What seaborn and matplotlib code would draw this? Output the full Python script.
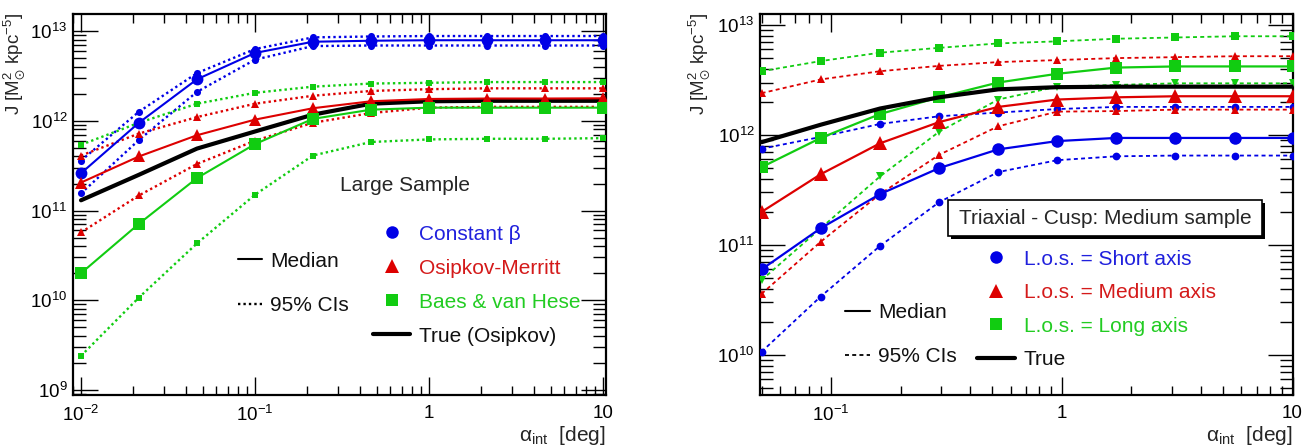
import numpy as np
import pandas as pd
import seaborn as sns
import matplotlib
matplotlib.use("Agg")
import matplotlib.pyplot as plt
from matplotlib.ticker import LogLocator, FuncFormatter, NullFormatter
from matplotlib.lines import Line2D
from matplotlib.patches import Rectangle

# ---------------- data (left panel: Large Sample) ----------------
alpha_left = [0.01, 0.0215, 0.0464, 0.1, 0.215, 0.464, 1.0, 2.15, 4.64, 10.0]
constbeta_med = [2.6e11, 9.5e11, 2.9e12, 5.7e12, 7.6e12, 7.8e12, 7.9e12, 7.9e12, 7.9e12, 7.9e12]
constbeta_hi = [3.6e11, 1.26e12, 3.4e12, 6.3e12, 8.5e12, 8.7e12, 8.8e12, 8.8e12, 8.8e12, 8.8e12]
constbeta_lo = [1.55e11, 6.1e11, 2.1e12, 4.8e12, 6.8e12, 6.9e12, 6.9e12, 6.9e12, 6.9e12, 6.9e12]
om_med = [2.05e11, 4.0e11, 6.9e11, 1.03e12, 1.38e12, 1.65e12, 1.75e12, 1.77e12, 1.77e12, 1.78e12]
om_hi = [4.1e11, 7.2e11, 1.1e12, 1.55e12, 1.9e12, 2.15e12, 2.25e12, 2.3e12, 2.3e12, 2.3e12]
om_lo = [5.7e10, 1.47e11, 3.3e11, 6.0e11, 9.5e11, 1.22e12, 1.4e12, 1.43e12, 1.43e12, 1.43e12]
bvh_med = [2.0e10, 7.1e10, 2.3e11, 5.5e11, 1.05e12, 1.33e12, 1.4e12, 1.4e12, 1.4e12, 1.4e12]
bvh_hi = [5.4e11, 9.5e11, 1.55e12, 2.05e12, 2.4e12, 2.6e12, 2.65e12, 2.7e12, 2.7e12, 2.7e12]
bvh_lo = [2.4e9, 1.07e10, 4.3e10, 1.5e11, 4.1e11, 5.8e11, 6.2e11, 6.3e11, 6.3e11, 6.4e11]
true_left = [1.3e11, 2.5e11, 4.9e11, 7.6e11, 1.17e12, 1.55e12, 1.65e12, 1.67e12, 1.67e12, 1.67e12]

# ---------------- data (right panel: Triaxial - Cusp) ----------------
alpha_right = [0.05, 0.0902, 0.163, 0.294, 0.530, 0.955, 1.72, 3.11, 5.61, 10.0]
short_med = [6.0e10, 1.42e11, 2.9e11, 5.0e11, 7.4e11, 8.8e11, 9.4e11, 9.4e11, 9.4e11, 9.4e11]
short_hi = [7.5e11, 9.6e11, 1.26e12, 1.48e12, 1.6e12, 1.72e12, 1.8e12, 1.8e12, 1.8e12, 1.8e12]
short_lo = [1.07e10, 3.4e10, 9.8e10, 2.45e11, 4.6e11, 5.9e11, 6.4e11, 6.5e11, 6.5e11, 6.5e11]
medium_med = [2.0e11, 4.4e11, 8.4e11, 1.31e12, 1.8e12, 2.1e12, 2.2e12, 2.25e12, 2.25e12, 2.25e12]
medium_hi = [2.4e12, 3.2e12, 3.8e12, 4.25e12, 4.6e12, 4.8e12, 5.0e12, 5.1e12, 5.2e12, 5.2e12]
medium_lo = [3.6e10, 1.07e11, 2.9e11, 6.6e11, 1.2e12, 1.63e12, 1.65e12, 1.7e12, 1.7e12, 1.7e12]
long_med = [5.1e11, 9.4e11, 1.55e12, 2.2e12, 3.0e12, 3.6e12, 4.1e12, 4.2e12, 4.2e12, 4.2e12]
long_hi = [3.8e12, 4.7e12, 5.6e12, 6.2e12, 6.8e12, 7.1e12, 7.5e12, 7.7e12, 7.9e12, 7.9e12]
long_lo = [4.8e10, 1.42e11, 4.2e11, 1.07e12, 2.1e12, 2.75e12, 2.85e12, 2.95e12, 2.95e12, 2.95e12]
true_right = [8.6e11, 1.24e12, 1.74e12, 2.2e12, 2.6e12, 2.72e12, 2.75e12, 2.75e12, 2.75e12, 2.75e12]

left_labels = ["Constant \u03b2", "Osipkov-Merritt", "Baes & van Hese", "True (Osipkov)"]
right_labels = ["L.o.s. = Short axis", "L.o.s. = Medium axis", "L.o.s. = Long axis", "True"]

# ---------------- style ----------------
sns.set_style("ticks")
plt.rcParams["font.family"] = ["Liberation Sans", "DejaVu Sans"]
plt.rcParams["mathtext.fontset"] = "custom"
plt.rcParams["mathtext.rm"] = "Liberation Sans"
plt.rcParams["mathtext.it"] = "Liberation Sans:italic"
plt.rcParams["mathtext.default"] = "regular"

BLUE = "#0000e6"
RED = "#dd0000"
GREEN = "#11cc11"
BLUE_T = "#2020dd"
RED_T = "#d41a1a"
GREEN_T = "#22cc22"

W, H = 1305, 448
fig = plt.figure(figsize=(W / 100, H / 100), dpi=100)


def fx(px):
    return px / W


def fy(py):
    return 1 - py / H


ax1 = fig.add_axes([fx(73), fy(395), fx(606) - fx(73), fy(14) - fy(395)])
ax2 = fig.add_axes([fx(760), fy(395), fx(1293) - fx(760), fy(14) - fy(395)])


def draw(ax, x, y, color, marker, ms, ls, lw, z):
    df = pd.DataFrame({"x": x, "y": y})
    sns.lineplot(data=df, x="x", y="y", ax=ax, color=color, marker=marker,
                 markersize=ms, markeredgewidth=0, linestyle=ls, linewidth=lw,
                 estimator=None, sort=False, legend=False, zorder=z)


for ax in (ax1, ax2):
    ax.set_xscale("log")
    ax.set_yscale("log")

dot_l = (0, (1.0, 1.3))
dash_r = (0, (2.2, 1.8))

# left panel
draw(ax1, alpha_left, true_left, "black", None, 0, "-", 3.0, 2)
for hi, lo, med, col, mk, msz in [
    (constbeta_hi, constbeta_lo, constbeta_med, BLUE, "o", 8.5),
    (om_hi, om_lo, om_med, RED, "^", 9),
    (bvh_hi, bvh_lo, bvh_med, GREEN, "s", 8),
]:
    draw(ax1, alpha_left, hi, col, mk, msz * 0.6, dot_l, 1.7, 3)
    draw(ax1, alpha_left, lo, col, mk, msz * 0.6, dot_l, 1.7, 3)
    draw(ax1, alpha_left, med, col, mk, msz, "-", 1.5, 4)

# right panel
for hi, lo, med, col, mk, lomk, msz in [
    (short_hi, short_lo, short_med, BLUE, "o", "o", 9),
    (medium_hi, medium_lo, medium_med, RED, "^", "^", 9.5),
    (long_hi, long_lo, long_med, GREEN, "s", "v", 8.5),
]:
    draw(ax2, alpha_right, hi, col, mk, msz * 0.62, dash_r, 1.3, 3)
    draw(ax2, alpha_right, lo, col, lomk, msz * 0.62, dash_r, 1.3, 3)
    draw(ax2, alpha_right, med, col, mk, msz, "-", 1.6, 4)
draw(ax2, alpha_right, true_right, "black", None, 0, "-", 3.0, 5)


def fmt(v, pos):
    e = int(round(np.log10(v)))
    if e == 0:
        return "1"
    if e == 1:
        return "10"
    return r"$10^{%d}$" % e


ax1.set_xlim(10 ** -2.046, 10 ** 1.017)
ax1.set_ylim(10 ** 8.944, 10 ** 13.19)
ax2.set_xlim(0.0492, 10.05)
ax2.set_ylim(10 ** 9.636, 10 ** 13.1)

for ax in (ax1, ax2):
    ax.set_xlabel("")
    ax.set_ylabel("")
    for a in (ax.xaxis, ax.yaxis):
        a.set_major_locator(LogLocator(base=10, numticks=20))
        a.set_minor_locator(LogLocator(base=10, subs=np.arange(2, 10), numticks=200))
        a.set_major_formatter(FuncFormatter(fmt))
        a.set_minor_formatter(NullFormatter())
    ax.tick_params(which="both", direction="in", top=True, right=True,
                   labelsize=13.5, colors="black", width=1.0)
    ax.tick_params(axis="y", which="major", length=18, pad=4)
    ax.tick_params(axis="y", which="minor", length=9.5)
    ax.tick_params(axis="x", which="major", length=13, pad=7)
    ax.tick_params(axis="x", which="minor", length=6.5)
    for s in ax.spines.values():
        s.set_linewidth(1.6)
        s.set_color("black")
        s.set_visible(True)

# axis titles
ylab = r"J [M$_{\odot}^{2}$ kpc$^{-5}$]"
fig.text(fx(14), fy(13), ylab, rotation=90, ha="center", va="top", fontsize=13.5)
fig.text(fx(699), fy(13), ylab, rotation=90, ha="center", va="top", fontsize=13.5)
xlab = r"$\alpha_{\mathrm{int}}$  [deg]"
fig.text(fx(606), fy(435), xlab, ha="right", va="center", fontsize=15)
fig.text(fx(1293), fy(435), xlab, ha="right", va="center", fontsize=15)

# left annotations
FS = 15
fig.text(fx(405), fy(185), "Large Sample", ha="center", va="center", fontsize=FS)


def style_legend(ax, handles, labels, colors, x, ytop, hl, sp, tp):
    leg = ax.legend(handles, labels, loc="upper left", bbox_to_anchor=(fx(x), fy(ytop)),
                    bbox_transform=fig.transFigure, frameon=False, fontsize=FS,
                    handlelength=hl, handletextpad=tp, labelspacing=sp,
                    borderpad=0, borderaxespad=0)
    for t, c in zip(leg.get_texts(), colors):
        t.set_color(c)
    return leg


h_ci_l = [Line2D([], [], color="black", lw=1.5),
          Line2D([], [], color="black", lw=1.7, linestyle=dot_l)]
leg1 = style_legend(ax1, h_ci_l, ["Median", "95% CIs"], ["#111111", "#111111"],
                    238, 251.5, 1.15, 1.24, 0.38)
ax1.add_artist(leg1)
h_s_l = [Line2D([], [], color=BLUE, marker="o", ls="none", ms=9, mew=0),
         Line2D([], [], color=RED, marker="^", ls="none", ms=9.5, mew=0),
         Line2D([], [], color=GREEN, marker="s", ls="none", ms=8, mew=0),
         Line2D([], [], color="black", lw=3)]
style_legend(ax1, h_s_l, left_labels, [BLUE_T, RED_T, GREEN_T, "#111111"],
             373, 224.5, 1.78, 0.72, 0.43)

# right annotations
h_ci_r = [Line2D([], [], color="black", lw=1.5),
          Line2D([], [], color="black", lw=1.3, linestyle=dash_r)]
leg3 = style_legend(ax2, h_ci_r, ["Median", "95% CIs"], ["#111111", "#111111"],
                    845, 303.5, 1.2, 1.2, 0.38)
ax2.add_artist(leg3)
h_s_r = [Line2D([], [], color=BLUE, marker="o", ls="none", ms=9, mew=0),
         Line2D([], [], color=RED, marker="^", ls="none", ms=9.5, mew=0),
         Line2D([], [], color=GREEN, marker="s", ls="none", ms=8, mew=0),
         Line2D([], [], color="black", lw=3)]
style_legend(ax2, h_s_r, right_labels, [BLUE_T, RED_T, GREEN_T, "#111111"],
             977, 249.5, 1.82, 0.7, 0.43)

# boxed title in right panel (with ROOT-like shadow)
bx0, by0, bx1, by1 = 948, 200, 1262, 236
fig.patches.append(Rectangle((fx(bx0 + 3), fy(by1 + 3)), fx(bx1 - bx0), fy(by0) - fy(by1),
                             transform=fig.transFigure, facecolor="black", edgecolor="none",
                             zorder=10))
fig.patches.append(Rectangle((fx(bx0), fy(by1)), fx(bx1 - bx0), fy(by0) - fy(by1),
                             transform=fig.transFigure, facecolor="white", edgecolor="black",
                             lw=1.2, zorder=11))
fig.text(fx((bx0 + bx1) / 2), fy((by0 + by1) / 2), "Triaxial - Cusp: Medium sample",
         ha="center", va="center", fontsize=FS, zorder=12)

fig.savefig("out.png", dpi=100)
